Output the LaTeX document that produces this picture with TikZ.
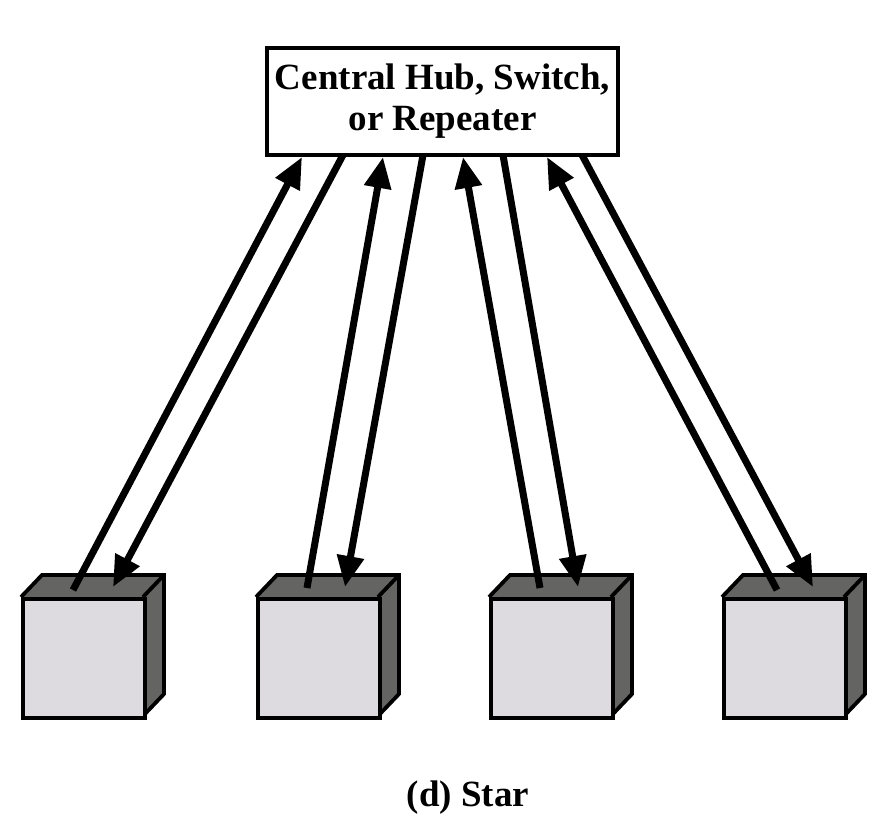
\documentclass[tikz,border=0pt]{standalone}
\usepackage{fontspec}
\setmainfont{Liberation Serif}
\usetikzlibrary{arrows.meta}
\definecolor{facegray}{RGB}{221,219,224}
\definecolor{darkgray}{RGB}{100,101,98}
\tikzset{
  hubbox/.style={draw, line width=3.8pt, fill=white, minimum width=351pt, minimum height=107pt, inner sep=0pt, align=center, font=\bfseries\fontsize{37}{41}\selectfont},
  facestyle/.style={draw, line width=3.8pt, fill=facegray, line join=miter},
  link/.style={line width=7pt, -{Triangle[length=31pt,width=26pt]}},
  caption/.style={font=\bfseries\fontsize{37}{42}\selectfont}
}
\begin{document}
\begin{tikzpicture}[x=1pt,y=-1pt]
\useasboundingbox (0,0) rectangle (890,822);
\node[hubbox] (hub) at (442.5,101.5) {Central Hub, Switch,\\or Repeater};
% boxes
\foreach \i/\x in {1/21,2/256,3/489,4/722}{
  \fill[darkgray] (\x,597) -- (\x+21,575) -- (\x+143,575) -- (\x+143,694) -- (\x+122,716) -- (\x+122,597) -- cycle;
  \draw[line width=3.8pt, line join=miter] (\x,597) -- (\x+21,575) -- (\x+143,575) -- (\x+143,694) -- (\x+122,716);
  \draw[line width=3.8pt] (\x+122,597) -- (\x+143,575);
  \node[facestyle, minimum width=122pt, minimum height=119pt, anchor=north west, inner sep=0pt] (box\i) at (\x,597) {};
}
% coordinates on the hub
\coordinate (h1u) at (302,157);
\coordinate (h1d) at (343,155);
\coordinate (h2u) at (383,157);
\coordinate (h2d) at (423,155);
\coordinate (h3u) at (463,157);
\coordinate (h3d) at (503,155);
\coordinate (h4u) at (547,157);
\coordinate (h4d) at (582,155);
% coordinates on the boxes
\coordinate (b1u) at (73,590);
\coordinate (b1d) at (113,587);
\coordinate (b2u) at (307,588);
\coordinate (b2d) at (345,587);
\coordinate (b3u) at (540,588);
\coordinate (b3d) at (578,587);
\coordinate (b4u) at (777,590);
\coordinate (b4d) at (813,587);
\foreach \i in {1,2,3,4}{
  \draw[link] (b\i u) -- (h\i u);
  \draw[link] (h\i d) -- (b\i d);
}
\node[caption] (cap) at (468,798) {(d) Star};
\end{tikzpicture}
\end{document}
